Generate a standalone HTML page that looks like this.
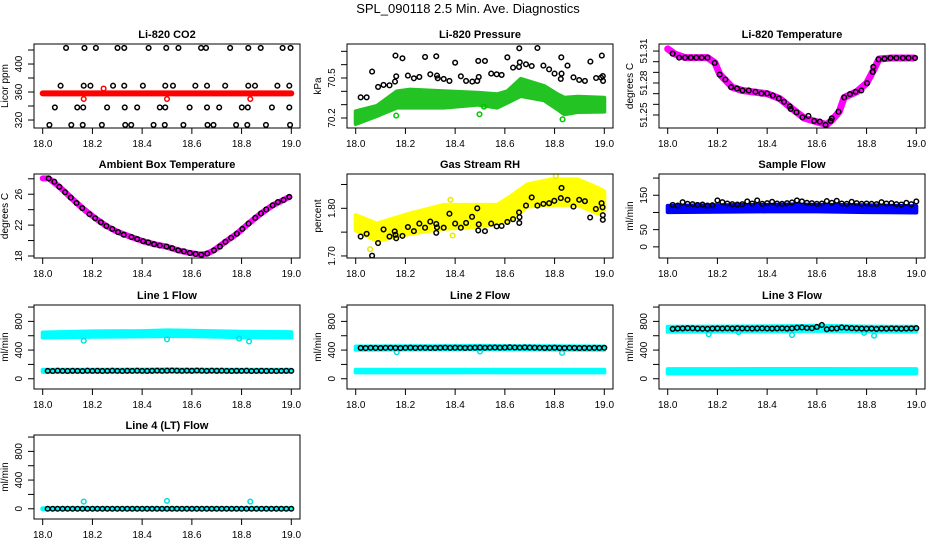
<!DOCTYPE html>
<html><head><meta charset="utf-8">
<style>
html,body{margin:0;padding:0;background:#fff;}
svg{display:block;font-family:"Liberation Sans",sans-serif;}
</style></head>
<body>
<svg id="chart" width="936" height="540" viewBox="0 0 936 540" xmlns="http://www.w3.org/2000/svg">
<rect width="936" height="540" fill="#fff"/>
<text x="468" y="13" font-size="13" text-anchor="middle">SPL_090118  2.5 Min. Ave. Diagnostics</text>
</svg>
<script>
// ---------- DATA ----------
const xTicks = [18.0, 18.2, 18.4, 18.6, 18.8, 19.0];
const xTickLabels = ["18.0", "18.2", "18.4", "18.6", "18.8", "19.0"];
const tB = [18.02,18.04,18.06,18.08,18.10,18.12,18.14,18.16,18.18,18.20,18.22,18.24,18.26,18.28,18.30,18.32,18.34,18.36,18.38,18.40,18.42,18.44,18.46,18.48,18.50,18.52,18.54,18.56,18.58,18.60,18.62,18.64,18.66,18.68,18.70,18.72,18.74,18.76,18.78,18.80,18.82,18.84,18.86,18.88,18.90,18.92,18.94,18.96,18.98,19.00];
const flowBandT = [18.0, 18.2, 18.4, 18.5, 18.6, 18.8, 19.0];

// CO2
const co2T = [18.094,18.168,18.214,18.301,18.328,18.426,18.497,18.546,18.637,18.657,18.754,18.827,18.877,18.965,18.997,
 18.072,18.165,18.192,18.283,18.328,18.403,18.493,18.524,18.614,18.661,18.734,18.827,18.854,18.944,18.992,
 18.049,18.139,18.163,18.259,18.330,18.380,18.471,18.493,18.591,18.661,18.710,18.801,18.825,18.922,18.992,
 18.027,18.115,18.161,18.238,18.332,18.356,18.446,18.491,18.566,18.663,18.687,18.778,18.823,18.898,18.995];
const co2V = [423,423,423,423,423,423,423,423,423,423,423,423,423,423,423,
 369,369,369,369,369,369,369,369,369,369,369,369,369,369,369,
 338,338,338,338,338,338,338,338,338,338,338,338,338,338,338,
 313,313,313,313,313,313,313,313,313,313,313,313,313,313,313];
const co2RedT = [18.0,18.1,18.2,18.3,18.4,18.5,18.6,18.7,18.8,18.9,19.0];
const co2RedV = [358,358,358,358,358,358,358,358,358,358,358];
const co2RedOutT = [18.245,18.165,18.5,18.835];
const co2RedOutV = [365,350,350,350];

// Pressure
const presT = [18.020,18.044,18.066,18.090,18.112,18.136,18.158,18.160,18.163,18.188,18.210,18.234,18.256,18.279,18.300,18.324,18.327,18.330,18.354,18.377,18.400,18.423,18.444,18.469,18.489,18.495,18.493,18.520,18.545,18.567,18.587,18.610,18.633,18.657,18.660,18.658,18.685,18.708,18.731,18.755,18.778,18.800,18.825,18.828,18.827,18.852,18.876,18.899,18.922,18.944,18.967,18.987,18.990,18.994,18.995];
const presV = [70.355,70.355,70.548,70.433,70.448,70.445,70.473,70.668,70.513,70.648,70.518,70.498,70.508,70.658,70.528,70.663,70.518,70.498,70.493,70.478,70.615,70.513,70.478,70.473,70.478,70.508,70.628,70.628,70.533,70.528,70.523,70.655,70.578,70.583,70.618,70.723,70.603,70.590,70.725,70.593,70.565,70.533,70.493,70.533,70.655,70.593,70.505,70.485,70.478,70.623,70.500,70.503,70.668,70.515,70.478];
const presBandT = [18.0,18.085,18.166,18.219,18.354,18.489,18.569,18.610,18.664,18.758,18.812,18.839,18.893,19.0];
const presBandHi = [70.250,70.290,70.400,70.413,70.400,70.390,70.378,70.400,70.493,70.440,70.378,70.352,70.360,70.352];
const presBandLo = [70.155,70.215,70.278,70.278,70.278,70.300,70.278,70.315,70.365,70.333,70.265,70.228,70.245,70.248];
const presGreenOutT = [18.163,18.498,18.516,18.832];
const presGreenOutV = [70.218,70.228,70.285,70.190];

// Li-820 temperature
const tempT = [18.020,18.046,18.070,18.093,18.115,18.137,18.160,18.189,18.209,18.232,18.255,18.279,18.301,18.326,18.353,18.377,18.400,18.423,18.447,18.468,18.491,18.495,18.518,18.542,18.566,18.589,18.612,18.635,18.656,18.660,18.687,18.710,18.733,18.756,18.779,18.802,18.825,18.827,18.848,18.872,18.896,18.920,18.946,18.969,18.995];
const tempV = [51.3075,51.3038,51.3038,51.3038,51.3038,51.3038,51.3038,51.2988,51.2879,51.2833,51.2761,51.2749,51.2730,51.2730,51.2718,51.2702,51.2702,51.2683,51.2655,51.2624,51.2581,51.2556,51.2525,51.2478,51.2491,51.2444,51.2438,51.2407,51.2444,51.2469,51.2531,51.2665,51.2696,51.2718,51.2730,51.2798,51.2904,51.2951,51.3022,51.3028,51.3035,51.3035,51.3035,51.3035,51.3035];
const tempBandT = [18.0,18.03,18.07,18.16,18.19,18.21,18.26,18.30,18.40,18.45,18.50,18.55,18.60,18.64,18.66,18.69,18.71,18.76,18.80,18.83,18.85,18.90,18.99];
const tempBandV = [51.3120,51.3070,51.3038,51.3038,51.2990,51.2880,51.2760,51.2730,51.2700,51.2655,51.2560,51.2470,51.2435,51.2410,51.2450,51.2530,51.2665,51.2718,51.2798,51.2930,51.3025,51.3035,51.3035];

// Ambient
const ambT = [18.024,18.047,18.067,18.090,18.113,18.136,18.159,18.188,18.211,18.234,18.256,18.280,18.303,18.326,18.357,18.380,18.404,18.425,18.448,18.471,18.498,18.521,18.545,18.568,18.592,18.615,18.638,18.662,18.689,18.713,18.735,18.758,18.781,18.803,18.828,18.855,18.878,18.899,18.925,18.946,18.969,18.992];
const ambV = [28.05,27.62,26.96,26.26,25.56,24.86,24.21,23.42,22.90,22.37,21.89,21.50,21.10,20.75,20.45,20.19,19.92,19.75,19.53,19.36,19.22,19.01,18.74,18.61,18.39,18.26,18.17,18.31,18.74,19.22,19.84,20.36,20.89,21.50,22.20,22.94,23.51,24.03,24.56,24.99,25.26,25.65];
const ambBandT = [18.0,18.024,18.067,18.113,18.159,18.211,18.256,18.303,18.357,18.404,18.448,18.498,18.545,18.592,18.638,18.662,18.689,18.735,18.781,18.828,18.878,18.925,18.969,18.992];
const ambBandV = [28.05,28.05,26.96,25.56,24.21,22.90,21.89,21.10,20.45,19.92,19.53,19.22,18.74,18.39,18.17,18.31,18.74,19.84,20.89,22.20,23.51,24.56,25.26,25.65];

// RH
const rhT = [18.020,18.044,18.066,18.090,18.112,18.136,18.157,18.160,18.163,18.188,18.210,18.234,18.256,18.279,18.300,18.324,18.327,18.324,18.354,18.377,18.400,18.423,18.444,18.468,18.489,18.495,18.493,18.520,18.545,18.567,18.587,18.610,18.633,18.657,18.659,18.658,18.685,18.708,18.731,18.755,18.778,18.799,18.825,18.828,18.852,18.876,18.899,18.922,18.943,18.966,18.989,18.993,18.994,18.994];
const rhV = [1.7407,1.7464,1.7007,1.7271,1.7557,1.7407,1.7514,1.7443,1.7371,1.7421,1.7607,1.7521,1.7679,1.7593,1.7721,1.7671,1.7600,1.7486,1.7593,1.7886,1.7679,1.7593,1.7693,1.7821,1.8000,1.7664,1.7536,1.7521,1.7679,1.7621,1.7629,1.7714,1.7771,1.7914,1.7814,1.7693,1.8057,1.8229,1.8057,1.8093,1.8107,1.8157,1.8214,1.8429,1.8179,1.8036,1.8179,1.8150,1.7807,1.7986,1.8107,1.8021,1.7857,1.7757];
const rhBandT = [18.0,18.085,18.219,18.354,18.489,18.569,18.623,18.690,18.785,18.892,18.973,19.0];
const rhBandHi = [1.7857,1.7679,1.7893,1.8071,1.8071,1.8071,1.8250,1.8500,1.8607,1.8607,1.8429,1.8357];
const rhBandLo = [1.7536,1.7321,1.7464,1.7571,1.7607,1.7679,1.7750,1.8036,1.8071,1.8071,1.7893,1.7964];
const rhYellowOutT = [18.058,18.390,18.381,18.805];
const rhYellowOutV = [1.7143,1.7429,1.8179,1.8679];

// Sample flow
const sampleV = [122,120,130,125,124,122,123,120,121,135,130,126,124,123,124,132,126,135,125,127,131,126,125,127,129,135,132,128,127,125,126,133,128,134,126,125,131,127,125,126,125,124,130,126,127,124,123,128,124,132];
const sampleBandHi = [119,121,122,123,122,121,118];
const sampleBandLo = [101,102,103,103,103,101,100];

// Line flows
const line1V = [110,108,112,110,109,111,110,108,112,110,111,109,110,112,110,108,111,110,112,110,109,111,113,110,112,114,112,110,113,111,115,112,110,113,111,112,110,109,111,110,112,108,110,111,109,110,108,110,111,110];
const line1HiBandHi = [645,660,665,675,670,655,650];
const line1HiBandLo = [575,585,590,595,595,580,575];
const line1LoBandHi = [125,125,128,130,128,125,125];
const line1LoBandLo = [95,96,98,100,98,96,95];
const line1CyanOutT = [18.165,18.5,18.83,18.79];
const line1CyanOutV = [530,550,520,560];

const line2V = [430,428,432,430,429,431,432,430,428,431,433,430,432,431,429,430,432,434,431,433,432,430,431,433,435,432,434,436,433,435,438,436,434,437,435,433,432,430,431,433,430,429,431,430,428,430,429,431,430,432];
const line2HiBandHi = [450,452,455,458,456,452,450];
const line2HiBandLo = [405,408,410,412,410,406,405];
const line2LoBandHi = [125,125,126,126,126,125,125];
const line2LoBandLo = [88,88,89,90,89,88,88];
const line2CyanOutT = [18.165,18.5,18.83];
const line2CyanOutV = [370,380,360];

const line3V = [695,700,702,705,703,700,698,697,700,702,701,703,700,704,702,701,700,702,703,701,700,702,704,700,703,712,715,708,705,722,750,690,700,702,715,710,705,702,700,698,700,695,700,698,702,700,698,700,702,705];
const line3HiBandHi = [725,728,730,735,740,728,725];
const line3HiBandLo = [655,660,662,665,670,660,658];
const line3LoBandHi = [135,135,136,136,136,135,135];
const line3LoBandLo = [75,75,76,76,76,75,75];
const line3CyanOutT = [18.165,18.5,18.83,18.79,18.285];
const line3CyanOutV = [620,610,600,640,650];

const line4V = [0,0,0,0,0,0,0,0,0,0,0,0,0,0,0,0,0,0,0,0,0,0,0,0,0,0,0,0,0,0,0,0,0,0,0,0,0,0,0,0,0,0,0,0,0,0,0,0,0,0];
const line4CyanT = [18.0,18.2,18.4,18.6,18.8,19.0];
const line4CyanV = [0,0,0,0,0,0];
const line4CyanOutT = [18.165,18.5,18.835];
const line4CyanOutV = [100,110,100];

// ---------- DRAWING ----------
const NS = "http://www.w3.org/2000/svg";
const svg = document.getElementById("chart");
const colX = [34, 347, 659];
const rowY = [44, 174, 305, 435];
const PW = 266, PH = 84;

function mk(tag, attrs, parent) {
  const e = document.createElementNS(NS, tag);
  for (const k in attrs) e.setAttribute(k, attrs[k]);
  (parent || svg).appendChild(e);
  return e;
}

function makePanel(col, row, name, title, ylab, ymin, ymax, yTicks, yLabels) {
  const x0 = colX[col], y0 = rowY[row];
  const g = mk("g", {});
  
  
  const sx = t => x0 + 8.7 + (t - 18) * 248.6;
  const sy = v => y0 + PH - (v - ymin) / (ymax - ymin) * PH;
  const plot = mk("g", {}, g);
  
  
  const box = mk("rect", {x: x0, y: y0, width: PW, height: PH, fill: "none", stroke: "#000", "stroke-width": 1}, g);
  
  
  const tt = mk("text", {x: x0 + PW / 2, y: y0 - 6, "font-size": 11, "font-weight": "bold", "text-anchor": "middle"}, g);
  tt.textContent = title;
  
  
  const xa = mk("g", {}, g);
  
  
  mk("line", {x1: sx(xTicks[0]), x2: sx(xTicks[xTicks.length - 1]), y1: y0 + PH, y2: y0 + PH, stroke: "#000"}, xa);
  xTicks.forEach((t, i) => {
    mk("line", {x1: sx(t), x2: sx(t), y1: y0 + PH, y2: y0 + PH + 6, stroke: "#000"}, xa);
    const lb = mk("text", {x: sx(t), y: y0 + PH + 19, "font-size": 10, "text-anchor": "middle"}, xa);
    lb.textContent = xTickLabels[i];
    
    
  });
  const ya = mk("g", {}, g);
  
  
  mk("line", {x1: x0, x2: x0, y1: sy(yTicks[0]), y2: sy(yTicks[yTicks.length - 1]), stroke: "#000"}, ya);
  yTicks.forEach((v, i) => {
    mk("line", {x1: x0 - 6, x2: x0, y1: sy(v), y2: sy(v), stroke: "#000"}, ya);
    if (yLabels[i]) {
      const lb = mk("text", {x: 0, y: 0, "font-size": 10, "text-anchor": "middle",
        transform: "translate(" + (x0 - 12) + "," + sy(v) + ") rotate(-90)"}, ya);
      lb.textContent = yLabels[i];
      
      
    }
  });
  const yl = mk("text", {x: 0, y: 0, "font-size": 10, "text-anchor": "middle",
    transform: "translate(" + (x0 - 26) + "," + (y0 + PH / 2) + ") rotate(-90)"}, g);
  yl.textContent = ylab;
  
  
  const cid = "clip-" + name;
  const cp = mk("clipPath", {id: cid}, g);
  mk("rect", {x: x0, y: y0, width: PW, height: PH}, cp);
  plot.setAttribute("clip-path", "url(#" + cid + ")");
  return {plot, sx, sy, name};
}

function points(P, ts, vs, color, label) {
  const g = mk("g", {}, P.plot);
  
  
  ts.forEach((t, i) => {
    const c = mk("circle", {cx: P.sx(t), cy: P.sy(vs[i]), r: 2.3, fill: "none", stroke: color, "stroke-width": 1.5}, g);
    
    
  });
}
function thickLine(P, ts, vs, color, w, label) {
  const pts = ts.map((t, i) => P.sx(t).toFixed(1) + "," + P.sy(vs[i]).toFixed(1)).join(" ");
  const l = mk("polyline", {points: pts, fill: "none", stroke: color, "stroke-width": w, "stroke-linejoin": "round", "stroke-linecap": "round"}, P.plot);
  
  
}
function band(P, ts, hi, lo, color, label) {
  const up = ts.map((t, i) => P.sx(t).toFixed(1) + "," + P.sy(hi[i]).toFixed(1));
  const dn = ts.map((t, i) => P.sx(t).toFixed(1) + "," + P.sy(lo[i]).toFixed(1)).reverse();
  const p = mk("polygon", {points: up.concat(dn).join(" "), fill: color, stroke: color, "stroke-width": 4, "stroke-linejoin": "round"}, P.plot);
  
  
}

let P = makePanel(0, 0, "co2", "Li-820 CO2", "Licor ppm", 308.6, 428.6, [320,340,360,380,400,420], ["320","","360","","400",""]);
thickLine(P, co2RedT, co2RedV, "#ff0000", 6, "red-band");
points(P, co2RedOutT, co2RedOutV, "#ff0000", "red-outliers");
points(P, co2T, co2V, "#000", "black-points");

P = makePanel(1, 0, "pressure", "Li-820 Pressure", "kPa", 70.125, 70.755, [70.2,70.3,70.4,70.5,70.6,70.7], ["70.2","","","70.5","",""]);
band(P, presBandT, presBandHi, presBandLo, "#22c322", "green-band");
points(P, presGreenOutT, presGreenOutV, "#00c800", "green-outliers");
points(P, presT, presV, "#000", "black-points");

P = makePanel(2, 0, "temperature", "Li-820 Temperature", "degrees C", 51.2378, 51.3166, [51.25,51.26,51.27,51.28,51.29,51.30,51.31], ["51.25","","","51.28","","","51.31"]);
thickLine(P, tempBandT, tempBandV, "#ff00ff", 7, "magenta-band");
points(P, tempT, tempV, "#000", "black-points");

P = makePanel(0, 1, "ambient", "Ambient Box Temperature", "degrees C", 17.74, 28.62, [18,20,22,24,26,28], ["18","","22","","26",""]);
thickLine(P, ambBandT, ambBandV, "#ff00ff", 6, "magenta-band");
points(P, ambT, ambV, "#000", "black-points");

P = makePanel(1, 1, "rh", "Gas Stream RH", "percent", 1.6957, 1.872, [1.70,1.75,1.80,1.85], ["1.70","","1.80",""]);
band(P, rhBandT, rhBandHi, rhBandLo, "#ffff00", "yellow-band");
points(P, rhYellowOutT, rhYellowOutV, "#e8e800", "yellow-outliers");
points(P, rhT, rhV, "#000", "black-points");

P = makePanel(2, 1, "sample-flow", "Sample Flow", "ml/min", -32.4, 211.8, [0,50,100,150,200], ["0","50","","150",""]);
band(P, flowBandT, sampleBandHi, sampleBandLo, "#0000ff", "blue-band");
points(P, tB, sampleV, "#000", "black-points");

const flowTicks = [0,200,400,600,800,1000], flowLabels = ["0","","400","","800",""];
P = makePanel(0, 2, "line1-flow", "Line 1 Flow", "ml/min", -142.9, 1028.6, flowTicks, flowLabels);
band(P, flowBandT, line1HiBandHi, line1HiBandLo, "#00ffff", "cyan-high-band");
band(P, flowBandT, line1LoBandHi, line1LoBandLo, "#00ffff", "cyan-low-band");
points(P, line1CyanOutT, line1CyanOutV, "#00e0e0", "cyan-outliers");
points(P, tB, line1V, "#000", "black-points");

P = makePanel(1, 2, "line2-flow", "Line 2 Flow", "ml/min", -142.9, 1028.6, flowTicks, flowLabels);
band(P, flowBandT, line2HiBandHi, line2HiBandLo, "#00ffff", "cyan-high-band");
band(P, flowBandT, line2LoBandHi, line2LoBandLo, "#00ffff", "cyan-low-band");
points(P, line2CyanOutT, line2CyanOutV, "#00e0e0", "cyan-outliers");
points(P, tB, line2V, "#000", "black-points");

P = makePanel(2, 2, "line3-flow", "Line 3 Flow", "ml/min", -142.9, 1028.6, flowTicks, flowLabels);
band(P, flowBandT, line3HiBandHi, line3HiBandLo, "#00ffff", "cyan-high-band");
band(P, flowBandT, line3LoBandHi, line3LoBandLo, "#00ffff", "cyan-low-band");
points(P, line3CyanOutT, line3CyanOutV, "#00e0e0", "cyan-outliers");
points(P, tB, line3V, "#000", "black-points");

P = makePanel(0, 3, "line4-flow", "Line 4 (LT) Flow", "ml/min", -142.9, 1028.6, flowTicks, flowLabels);
thickLine(P, line4CyanT, line4CyanV, "#00ffff", 5, "cyan-band");
points(P, line4CyanOutT, line4CyanOutV, "#00e0e0", "cyan-outliers");
points(P, tB, line4V, "#000", "black-points");
</script>
</body></html>
